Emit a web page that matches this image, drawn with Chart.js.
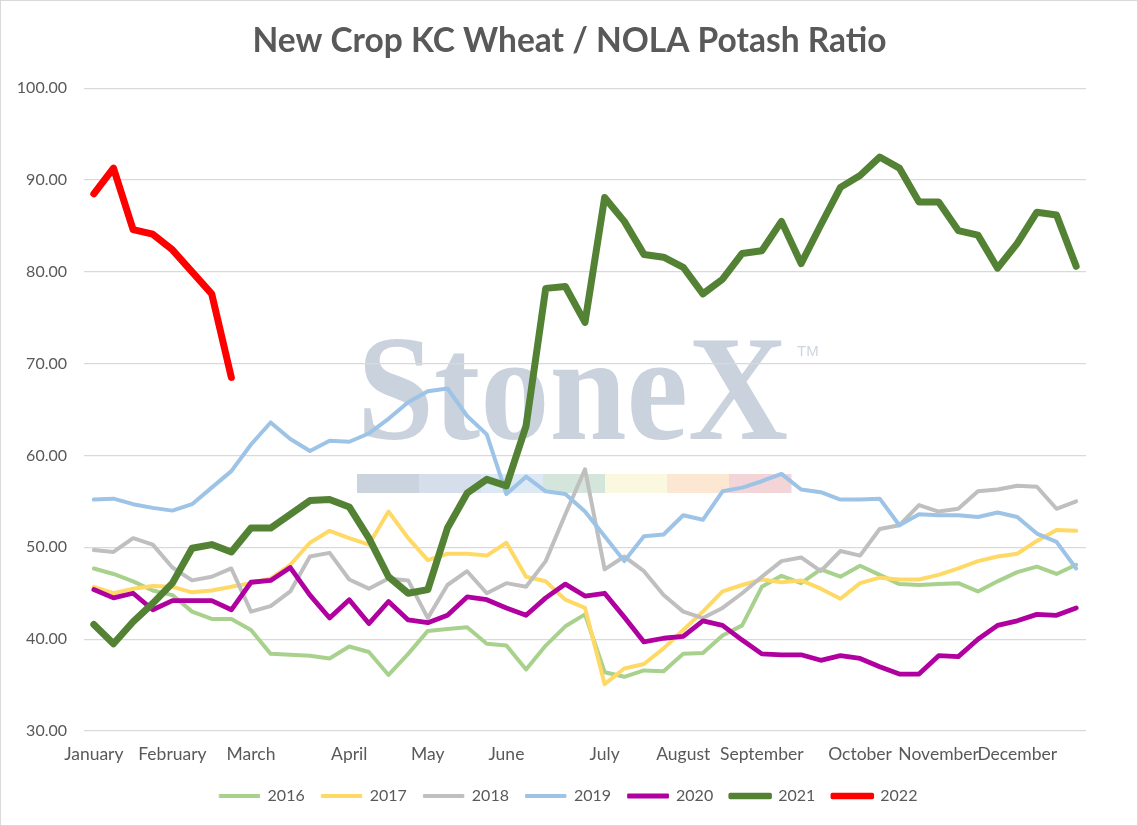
<!DOCTYPE html>
<html>
<head>
<meta charset="utf-8">
<title>New Crop KC Wheat / NOLA Potash Ratio</title>
<script src="https://cdn.jsdelivr.net/npm/chart.js@4.4.1/dist/chart.umd.min.js"></script>
<style>
  html, body { margin: 0; padding: 0; background: #fff; }
  #wrap { position: relative; width: 1138px; height: 826px; }
</style>
</head>
<body>
<div id="wrap"><canvas id="chart" width="1138" height="826"></canvas></div>
<script>
// month labels and the week index where each one sits
const months   = ['January', 'February', 'March', 'April', 'May', 'June', 'July',
                  'August', 'September', 'October', 'November', 'December'];
const monthIdx = [0, 4, 8, 13, 17, 21, 26, 30, 34, 39, 43, 47];
const weeks    = 51;

// weekly ratio, one array per year
const y2016 = [47.7, 47.1, 46.3, 45.3, 44.8, 43.0, 42.2, 42.2, 41.0, 38.4, 38.3, 38.2, 37.9, 39.2,
               38.6, 36.1, 38.4, 40.9, 41.1, 41.3, 39.5, 39.3, 36.7, 39.3, 41.4, 42.7, 36.4,
               35.9, 36.6, 36.5, 38.4, 38.5, 40.4, 41.5, 45.7, 46.9, 46.1, 47.6,
               46.8, 48.0, 47.0, 46.0, 45.9, 46.0, 46.1, 45.2, 46.3, 47.3, 47.9, 47.1, 48.1];
const y2017 = [45.7, 45.0, 45.5, 45.8, 45.7, 45.1, 45.3, 45.7, 46.1, 46.6, 48.1, 50.5, 51.8, 51.0,
               50.3, 53.9, 51.0, 48.6, 49.3, 49.3, 49.1, 50.5, 46.8, 46.3, 44.3, 43.4, 35.1,
               36.8, 37.3, 39.0, 41.0, 43.0, 45.2, 45.9, 46.5, 46.2, 46.4, 45.5, 44.4,
               46.1, 46.7, 46.5, 46.5, 47.0, 47.7, 48.5, 49.0, 49.3, 50.7, 51.9, 51.8];
const y2018 = [49.7, 49.5, 51.0, 50.3, 47.8, 46.4, 46.8, 47.7, 43.0, 43.6, 45.2, 49.0, 49.4, 46.5,
               45.5, 46.6, 46.4, 42.3, 45.9, 47.4, 45.0, 46.1, 45.7, 48.5, 53.6, 58.5, 47.6,
               49.0, 47.4, 44.8, 43.0, 42.3, 43.4, 45.0, 46.8, 48.5, 48.9, 47.4,
               49.6, 49.1, 52.0, 52.4, 54.6, 53.9, 54.2, 56.1, 56.3, 56.7, 56.6, 54.2, 55.0];
const y2019 = [55.2, 55.3, 54.7, 54.3, 54.0, 54.7, 56.5, 58.3, 61.2, 63.6, 61.8, 60.5, 61.6, 61.5,
               62.4, 64.0, 65.8, 67.0, 67.3, 64.3, 62.3, 55.8, 57.7, 56.1, 55.8, 53.9, 51.2,
               48.5, 51.2, 51.4, 53.5, 53.0, 56.1, 56.5, 57.2, 58.0, 56.3, 56.0, 55.2,
               55.2, 55.3, 52.4, 53.6, 53.5, 53.5, 53.3, 53.8, 53.3, 51.5, 50.6, 47.7];
const y2020 = [45.4, 44.5, 45.0, 43.2, 44.2, 44.2, 44.2, 43.2, 46.2, 46.4, 47.8, 44.8, 42.3, 44.3,
               41.7, 44.1, 42.1, 41.8, 42.6, 44.6, 44.3, 43.4, 42.6, 44.5, 46.0, 44.7, 45.0,
               42.4, 39.7, 40.1, 40.3, 42.0, 41.5, 39.9, 38.4, 38.3, 38.3, 37.7,
               38.2, 37.9, 37.0, 36.2, 36.2, 38.2, 38.1, 40.0, 41.5, 42.0, 42.7, 42.6, 43.4];
const y2021 = [41.6, 39.5, 41.9, 43.9, 46.1, 49.9, 50.3, 49.5, 52.1, 52.1, 53.6, 55.1, 55.2, 54.4,
               51.0, 46.8, 45.0, 45.4, 52.1, 55.9, 57.4, 56.7, 63.2,
               78.2, 78.4, 74.5, 88.1, 85.5, 81.9, 81.6, 80.5, 77.6, 79.2, 82.0, 82.3, 85.5, 80.9,
               85.1, 89.2, 90.5, 92.5, 91.3, 87.6, 87.6, 84.5, 84.0, 80.4, 83.1, 86.5, 86.2, 80.6];
const y2022 = [88.5, 91.3, 84.6, 84.1, 82.4, 80.0, 77.6, 68.5];

const yTicks = { min: 30, max: 100, step: 10 };

// x labels: month name on its week, blank elsewhere
const labels = Array.from({ length: weeks }, () => '');
monthIdx.forEach((w, i) => { labels[w] = months[i]; });

const FONT = 'Lato, "Open Sans", sans-serif';
const GREY = '#595959';

function line(label, data, color, width) {
    return {
        label, data,
        borderColor: color, backgroundColor: color,
        borderWidth: width, pointRadius: 0, pointHoverRadius: 0,
        tension: 0, fill: false,
        borderCapStyle: 'round', borderJoinStyle: 'round',
    };
}

const datasets = [
    line('2016', y2016, '#A9D18E', 4),
    line('2017', y2017, '#FFD966', 4),
    line('2018', y2018, '#BFBFBF', 4),
    line('2019', y2019, '#9DC3E6', 4),
    line('2020', y2020, '#B000A0', 4.8),
    line('2021', y2021, '#548235', 7),
    line('2022', y2022, '#FF0000', 7),
];
// later years on top, like the spreadsheet
datasets.forEach((ds, i) => { ds.order = datasets.length - i; });

// StoneX watermark under the grid, plus the outer frame
const decor = {
    id: 'decor',
    afterLayout(chart) {
        // title and legend are centred on the whole frame in the original
        chart.legend.left += 17;
        chart.legend.right += 17;
        chart.titleBlock.left += 18;
        chart.titleBlock.right += 18;
    },
    beforeDraw(chart) {
        const ctx = chart.ctx;
        ctx.save();
        ctx.fillStyle = '#CAD2DD';
        ctx.font = 'bold 150px "Liberation Serif", "DejaVu Serif", serif';
        ctx.textBaseline = 'alphabetic';
        const w = ctx.measureText('StoneX').width;
        ctx.translate(357, 439);
        ctx.scale(431 / w, 1);
        ctx.fillText('StoneX', 0, 0);
        ctx.restore();

        ctx.save();
        ctx.fillStyle = '#CDD5E0';
        ctx.font = '15px "Liberation Sans", sans-serif';
        ctx.fillText('TM', 797, 352);
        const band = ['#CBD3DE', '#D5DEEA', '#DCE8F3', '#D4E6DC', '#FAF8DF', '#FCE7D3', '#F3D5D8'];
        const bw = (791 - 357) / band.length;
        band.forEach((c, i) => {
            ctx.fillStyle = c;
            ctx.fillRect(357 + i * bw, 474, bw + 0.5, 19);
        });
        ctx.restore();
    },
    afterDraw(chart) {
        const ctx = chart.ctx;
        ctx.save();
        ctx.strokeStyle = '#D9D9D9';
        ctx.lineWidth = 1;
        ctx.strokeRect(0.5, 0.5, chart.width - 1, chart.height - 1);
        ctx.restore();
    },
};

new Chart(document.getElementById('chart'), {
    type: 'line',
    data: { labels, datasets },
    plugins: [decor],
    options: {
        responsive: false,
        animation: false,
        devicePixelRatio: 1,
        layout: { padding: { left: 17, right: 52, top: 0, bottom: 12 } },
        plugins: {
            title: {
                display: true,
                text: 'New Crop KC Wheat / NOLA Potash Ratio',
                color: GREY,
                font: { family: FONT, size: 33.5, weight: 'bold' },
                padding: { top: 21, bottom: 27 },
            },
            legend: {
                position: 'bottom',
                labels: {
                    color: GREY,
                    font: { family: FONT, size: 16 },
                    boxWidth: 40,
                    boxHeight: 3,
                    padding: 17,
                    generateLabels: (chart) => chart.data.datasets.map((ds, i) => ({
                        text: ds.label,
                        fillStyle: ds.borderColor,
                        strokeStyle: ds.borderColor,
                        lineWidth: ds.borderWidth > 5 ? 3.5 : (ds.borderWidth > 4 ? 1.8 : 1),
                        lineCap: 'round',
                        lineJoin: 'round',
                        fontColor: GREY,
                        hidden: false,
                        datasetIndex: i,
                    })),
                },
            },
            tooltip: { enabled: false },
        },
        scales: {
            x: {
                type: 'category',
                offset: true,
                grid: { display: false, drawTicks: false },
                border: { display: false },
                ticks: {
                    autoSkip: false, maxRotation: 0, minRotation: 0,
                    color: GREY, font: { family: FONT, size: 17.5 }, padding: 13,
                },
                afterFit: (scale) => { scale.height = 40; },
            },
            y: {
                min: yTicks.min, max: yTicks.max,
                grid: { color: '#D9D9D9', lineWidth: 1.3, drawTicks: false },
                border: { display: false },
                ticks: {
                    stepSize: yTicks.step,
                    color: GREY, font: { family: FONT, size: 16 }, padding: 17,
                    callback: (v) => v.toFixed(2),
                },
                afterFit: (scale) => { scale.width = 67; },
            },
        },
    },
});
</script>
</body>
</html>
